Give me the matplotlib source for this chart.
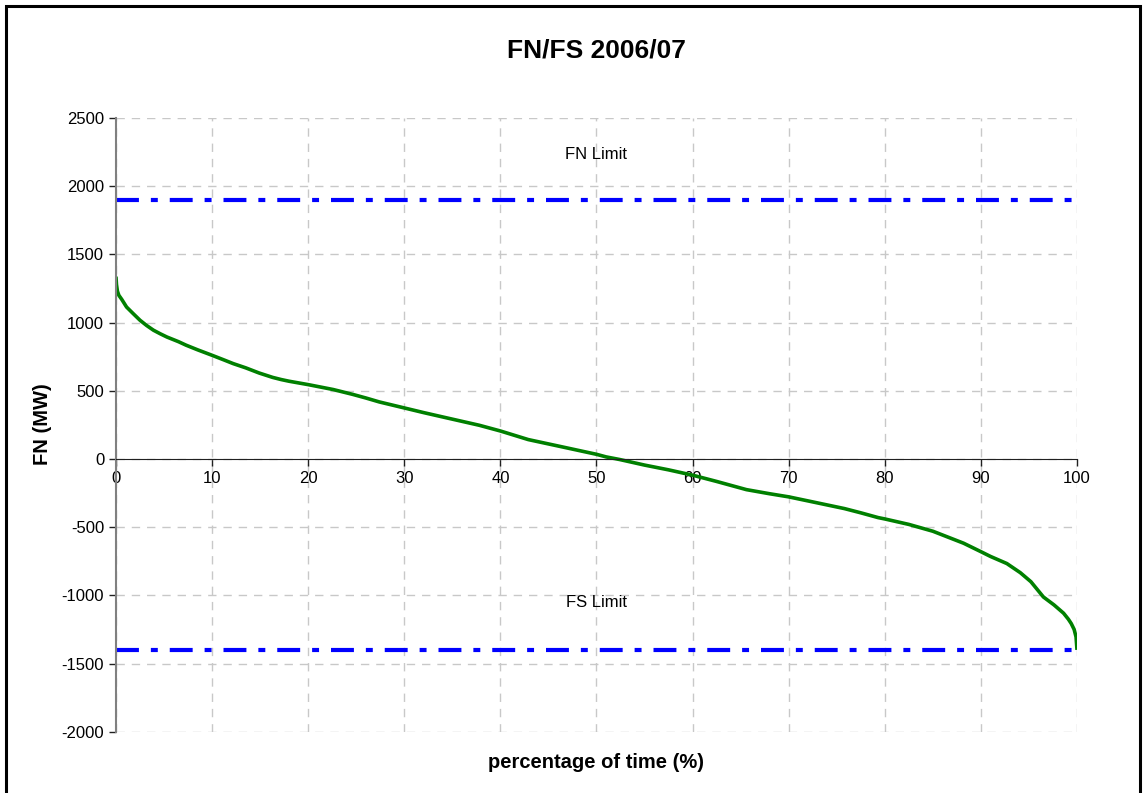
import numpy as np
import matplotlib
matplotlib.use('Agg')
from matplotlib import pyplot as plt
from matplotlib.patches import Rectangle

plt.rcParams['font.family'] = ['Liberation Sans', 'DejaVu Sans']
plt.rcParams['axes.unicode_minus'] = False
plt.rcParams['lines.scale_dashes'] = False

# duration curve
pct = [0, 0.05, 0.15, 0.3, 0.6, 1.1, 1.8, 2.5, 3.2, 3.9, 4.6, 5.3, 6.5, 7.3, 8.5,
       10, 11.2, 12.2, 13.5, 14.9, 16.3, 17.2, 18.0, 20, 22.6, 24.6, 26, 27.4,
       30, 32, 34.3, 37.8, 40, 42.9, 46, 50, 51, 52.4, 55, 57.5, 60, 62.5,
       65.6, 68, 70, 72.5, 75.8, 77.5, 79.3, 80, 82.5, 85, 88.2, 90, 91, 92.7,
       94.1, 95.2, 96.5, 97.6, 98.6, 99.1, 99.4, 99.7, 99.9, 100]
fn = [1337, 1280, 1230, 1200, 1170, 1114, 1065, 1017, 978, 944, 918, 894, 860,
      834, 800, 760, 727, 699, 668, 630, 598, 582, 570, 545, 509, 474, 447, 418,
      374, 340, 303, 247, 205, 142, 95, 34, 15, -4, -45, -80, -119, -165,
      -225, -255, -278, -315, -364, -395, -430, -440, -480, -530, -618, -680,
      -715, -767, -834, -900, -1012, -1070, -1131, -1175, -1207, -1250, -1305, -1400]

fn_limit = 1900
fs_limit = -1400

xticks = np.arange(0, 101, 10)
yticks = np.arange(-2000, 2501, 500)

fig = plt.figure(figsize=(11.46, 7.93), dpi=100)
ax = fig.add_axes([0.1012, 0.0773, 0.8386, 0.7739])

# limit lines, dash-dot
dash = (16.5, 8.6, 5.0, 8.6)
ax.plot([0, 100], [fn_limit, fn_limit], color='#0000ff', lw=3.0, dashes=dash)
ax.plot([0, 100], [fs_limit, fs_limit], color='#0000ff', lw=3.0, dashes=dash)

ax.plot(pct, fn, color='#008000', lw=2.6, solid_capstyle='butt')

ax.text(50, 2230, 'FN Limit', ha='center', va='center', fontsize=12)
ax.text(50, -1055, 'FS Limit', ha='center', va='center', fontsize=12)

ax.set_xlim(0, 100)
ax.set_ylim(-2000, 2500)
ax.set_xticks(xticks)
ax.set_yticks(yticks)
ax.tick_params(labelsize=12, direction='out', length=5, width=1, color='#202020')

ax.grid(True, color='#c8c8c8', linestyle=(0, (6, 5)), linewidth=1)
ax.set_axisbelow(True)

for s in ['top', 'right']:
    ax.spines[s].set_visible(False)
ax.spines['bottom'].set_position(('data', 0))
ax.spines['bottom'].set_color('#202020')
ax.spines['left'].set_color('#808080')
ax.spines['left'].set_linewidth(1.5)

fig.text(0.5205, 1 - 51 / 793, 'FN/FS 2006/07', ha='center', va='center',
         fontsize=19, fontweight='bold')
fig.text(42 / 1146, 0.4648, 'FN (MW)', ha='center', va='center', rotation=90,
         fontsize=14.5, fontweight='bold')
fig.text(0.5205, 1 - 763 / 793, 'percentage of time (%)', ha='center', va='center',
         fontsize=14.5, fontweight='bold')

# outer chart frame
fig.patches.append(Rectangle((6 / 1146, -0.02), 1134 / 1146, 1.02 - 6 / 793,
                             transform=fig.transFigure, fill=False,
                             edgecolor='black', linewidth=2.2))

plt.savefig('out.png', dpi=100)
